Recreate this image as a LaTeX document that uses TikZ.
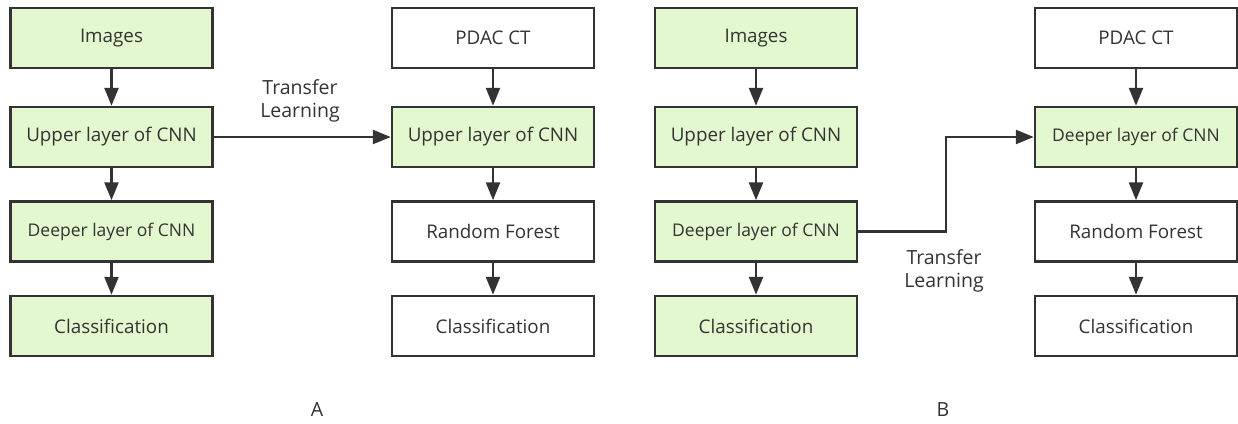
\documentclass[tikz,border=0pt]{standalone}
\usepackage{fontspec}
\setmainfont{Open Sans}
\usetikzlibrary{arrows.meta}
\definecolor{boxfill}{RGB}{227,248,206}
\definecolor{ink}{RGB}{51,51,51}
\begin{document}
\begin{tikzpicture}[x=1pt,y=-1pt,
  box/.style={draw=ink,line width=2.5pt,minimum width=202pt,minimum height=60pt,inner sep=0pt,text=ink,font=\fontsize{18.8}{22}\selectfont},
  green/.style={fill=boxfill},
  white/.style={fill=white},
  small/.style={font=\fontsize{17.5}{20}\selectfont},
  arr/.style={draw=ink,line width=2.5pt,-{Triangle[length=18pt,width=14pt]}},
  lbl/.style={text=ink,font=\fontsize{19.5}{23}\selectfont,align=center}]
\useasboundingbox (0,0) rectangle (1238,423);
% Panel A left
\node[box,green] (a1) at (111.5,38) {Images};
\node[box,green] (a2) at (111.5,137) {Upper layer of CNN};
\node[box,green,small] (a3) at (111.5,231.5) {Deeper layer of CNN};
\node[box,green] (a4) at (111.5,326) {Classification};
% Panel A right
\node[box,white] (b1) at (493,38) {PDAC CT};
\node[box,green] (b2) at (493,137) {Upper layer of CNN};
\node[box,white] (b3) at (493,231.5) {Random Forest};
\node[box,white] (b4) at (493,326) {Classification};
% Panel B left
\node[box,green] (c1) at (756,38) {Images};
\node[box,green] (c2) at (756,137) {Upper layer of CNN};
\node[box,green,small] (c3) at (756,231.5) {Deeper layer of CNN};
\node[box,green] (c4) at (756,326) {Classification};
% Panel B right
\node[box,white] (d1) at (1136,38) {PDAC CT};
\node[box,green,small] (d2) at (1136,137) {Deeper layer of CNN};
\node[box,white] (d3) at (1136,231.5) {Random Forest};
\node[box,white] (d4) at (1136,326) {Classification};
% vertical arrows
\foreach \p in {a,b,c,d}{
  \draw[arr] (\p1) -- (\p2);
  \draw[arr] (\p2) -- (\p3);
  \draw[arr] (\p3) -- (\p4);
}
% transfer arrows
\draw[arr] (a2) -- (b2);
\node[lbl] (t1) at (300,101) {Transfer\\Learning};
\coordinate (k1) at (946,231.5);
\coordinate (k2) at (946,137);
\draw[arr] (c3.east) -- (k1) -- (k2) -- (d2.west);
\node[lbl] (t2) at (944,271) {Transfer\\Learning};
% panel labels
\node[lbl] (la) at (317,410) {A};
\node[lbl] (lb) at (943,410) {B};
\end{tikzpicture}
\end{document}
